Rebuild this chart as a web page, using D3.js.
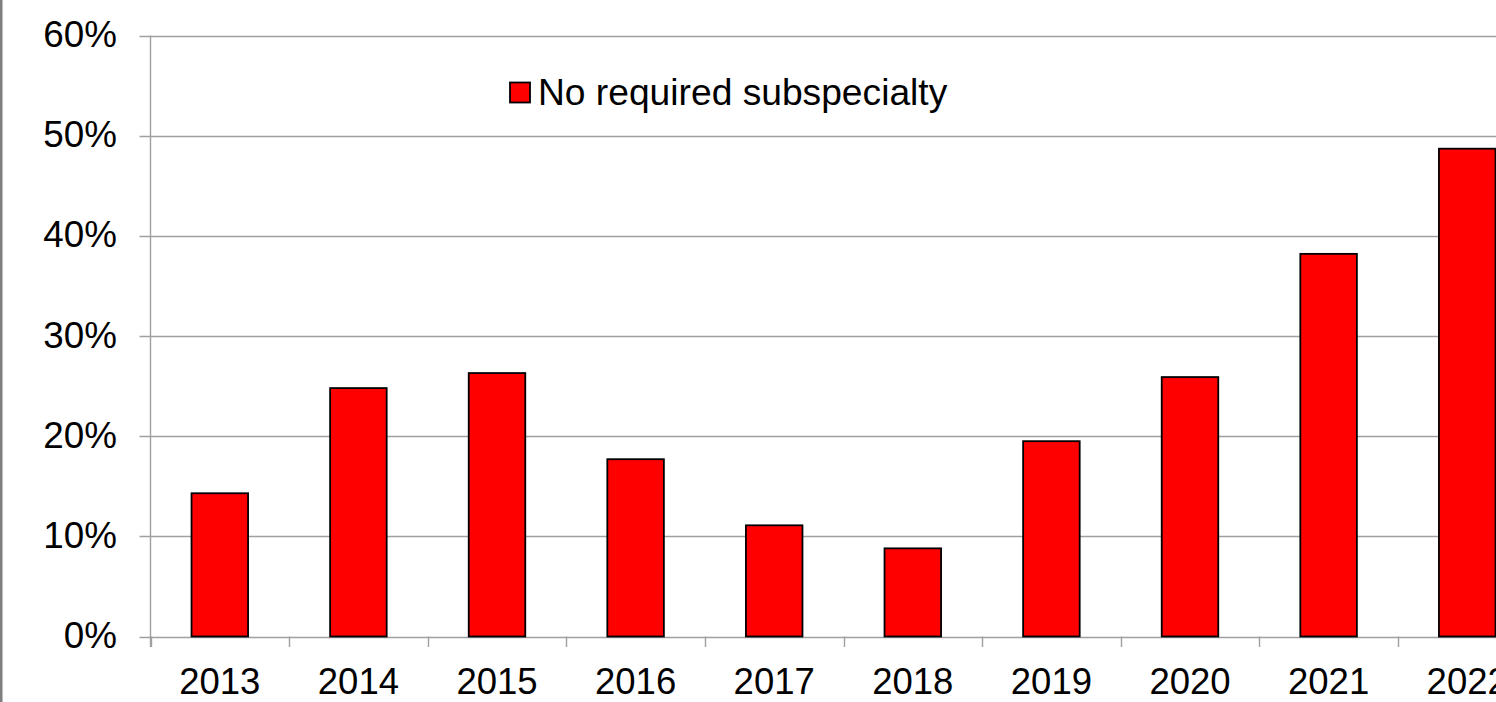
<!DOCTYPE html>
<html>
<head>
<meta charset="utf-8">
<script src="https://cdn.jsdelivr.net/npm/d3@7"></script>
<style>
  html, body { margin: 0; padding: 0; background: #fff; overflow: hidden; }
  svg { display: block; font-family: "Liberation Sans", Arial, sans-serif; }
</style>
</head>
<body>
<svg id="chart" width="1496" height="702"></svg>
<script>
// Share of cases with no required subspecialty, by year
const years = ["2013", "2014", "2015", "2016", "2017", "2018", "2019", "2020", "2021", "2022"];
const shares = [14.3, 24.8, 26.3, 17.7, 11.1, 8.8, 19.5, 25.9, 38.2, 48.7];
const yTicks = [0, 10, 20, 30, 40, 50, 60];
const seriesName = "No required subspecialty";

(function () {
  const svg = d3.select("#chart");
  const W = 1496, H = 702;

  // Plot area (extends beyond the right edge of the canvas)
  const plotLeft = 150.5, step = 138.6;
  const plotTop = 35.5, plotBottom = 636.5;

  const x = d3.scaleBand()
    .domain(years)
    .range([plotLeft, plotLeft + step * years.length])
    .paddingInner(0.592)
    .paddingOuter(0.296);

  const y = d3.scaleLinear().domain([0, 60]).range([plotBottom, plotTop]);

  const gridColor = "#a0a0a0";

  // Horizontal gridlines with left tick stubs
  svg.append("g")
    .selectAll("line")
    .data(yTicks)
    .join("line")
    .attr("x1", plotLeft - 11)
    .attr("x2", W + 50)
    .attr("y1", d => Math.round(y(d)) + 0.5)
    .attr("y2", d => Math.round(y(d)) + 0.5)
    .attr("stroke", gridColor)
    .attr("stroke-width", 1.4);

  // Y axis line
  svg.append("line")
    .attr("x1", plotLeft).attr("x2", plotLeft)
    .attr("y1", y(60)).attr("y2", plotBottom + 10.5)
    .attr("stroke", gridColor).attr("stroke-width", 1.4);

  // X axis ticks at category boundaries
  const boundaries = d3.range(years.length + 1).map(i => plotLeft + i * x.step());
  svg.append("g")
    .selectAll("line")
    .data(boundaries)
    .join("line")
    .attr("x1", d => Math.round(d) + 0.5)
    .attr("x2", d => Math.round(d) + 0.5)
    .attr("y1", plotBottom)
    .attr("y2", plotBottom + 10.5)
    .attr("stroke", gridColor)
    .attr("stroke-width", 1.4);

  // Y tick labels
  svg.append("g")
    .selectAll("text")
    .data(yTicks)
    .join("text")
    .attr("x", 117)
    .attr("y", d => y(d) + 11.5)
    .attr("text-anchor", "end")
    .attr("font-size", 36.8)
    .attr("fill", "#000")
    .text(d => d + "%");

  // Bars
  svg.append("g")
    .selectAll("rect")
    .data(years.map((yr, i) => ({ yr, v: shares[i] })))
    .join("rect")
    .attr("x", d => x(d.yr))
    .attr("y", d => y(d.v))
    .attr("width", x.bandwidth())
    .attr("height", d => y(0) - y(d.v))
    .attr("fill", "#ff0000")
    .attr("stroke", "#000")
    .attr("stroke-width", 1.8);

  // X tick labels
  svg.append("g")
    .selectAll("text")
    .data(years)
    .join("text")
    .attr("x", d => x(d) + x.bandwidth() / 2)
    .attr("y", 693.5)
    .attr("text-anchor", "middle")
    .attr("font-size", 36.5)
    .attr("fill", "#000")
    .text(d => d);

  // Legend
  const legend = svg.append("g").attr("transform", "translate(510,82.5)");
  legend.append("rect")
    .attr("x", 0).attr("y", 0)
    .attr("width", 20).attr("height", 20)
    .attr("fill", "#ff0000")
    .attr("stroke", "#000")
    .attr("stroke-width", 1.8);
  legend.append("text")
    .attr("x", 28)
    .attr("y", 22.5)
    .attr("font-size", 37.2)
    .attr("fill", "#000")
    .text(seriesName);

  // Left frame edge
  svg.append("line")
    .attr("x1", 1.25).attr("x2", 1.25)
    .attr("y1", 0).attr("y2", H)
    .attr("stroke", "#7f7f7f")
    .attr("stroke-width", 2.5);
})();
</script>
</body>
</html>
